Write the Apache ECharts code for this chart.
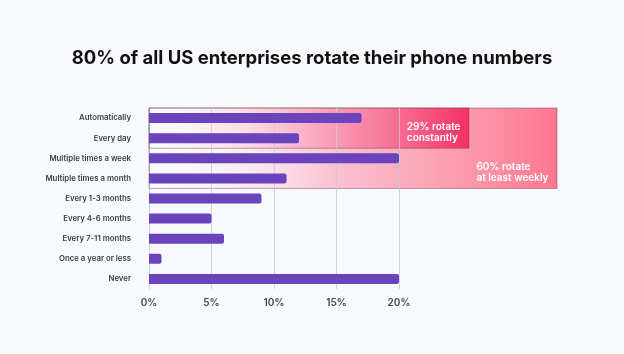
<!DOCTYPE html>
<html>
<head>
<meta charset="utf-8">
<script src="https://cdn.jsdelivr.net/npm/echarts@6/dist/echarts.min.js"></script>
<style>
  html, body { margin: 0; padding: 0; background: #f8f9fc; }
  #chart { width: 624px; height: 354px; }
</style>
</head>
<body>
<div id="chart"></div>
<script>
// data
const categories = [
  'Automatically', 'Every day', 'Multiple times a week', 'Multiple times a month',
  'Every 1-3 months', 'Every 4-6 months', 'Every 7-11 months', 'Once a year or less', 'Never'
]
const shares = [17, 12, 20, 11, 9, 5, 6, 1, 20]
const tickValues = [5, 10, 15, 20]
const axisMax = 32.64

// highlighted groups: x extent in %, first and last row index
const weeklyBox = { text: ['60% rotate', 'at least weekly'], x: [0, 32.64], rows: [0, 3] }
const constantBox = { text: ['29% rotate', 'constantly'], x: [0, 25.6], rows: [0, 1] }

const font = 'Inter, "Noto Sans", sans-serif'

function boxArea(box, colorTo, colorMid) {
  return [
    {
      xAxis: box.x[0],
      yAxis: box.rows[0] - 0.5,
      itemStyle: {
        color: {
          type: 'linear', x: 0, y: 0, x2: 1, y2: 0,
          colorStops: [
            { offset: 0, color: 'rgba(255,255,255,0)' },
            { offset: 0.45, color: colorMid },
            { offset: 1, color: colorTo }
          ]
        },
        borderColor: 'rgba(110,60,70,0.45)',
        borderWidth: 1
      },
      label: {
        show: true,
        position: 'insideBottomRight',
        distance: 0,
        offset: [-9, -5],
        formatter: box.text.map(t => '{a|' + t + '}').join('\n'),
        rich: {
          a: { color: '#fff', fontSize: 10, fontWeight: 600, fontFamily: font, align: 'left', lineHeight: 11 }
        }
      }
    },
    { xAxis: box.x[1], yAxis: box.rows[1] + 0.5 }
  ]
}

const chart = echarts.init(document.getElementById('chart'))

chart.setOption({
  backgroundColor: '#f8f9fc',
  title: {
    text: '80% of all US enterprises rotate their phone numbers',
    left: 'center',
    top: 44,
    textStyle: { fontFamily: font, fontSize: 18.5, fontWeight: 700, color: '#111' }
  },
  grid: { left: 149, right: 67, top: 108, bottom: 65 },
  xAxis: {
    type: 'value',
    min: 0,
    max: axisMax,
    interval: 5,
    splitLine: { show: false },
    axisLine: { show: false },
    axisTick: { show: false },
    axisLabel: {
      margin: 9,
      color: '#444452',
      fontFamily: font,
      fontSize: 10,
      fontWeight: 600,
      formatter: v => (v <= 20 ? v + '%' : '')
    }
  },
  yAxis: [
    {
      type: 'category',
      data: categories,
      inverse: true,
      axisLine: { show: true, lineStyle: { color: '#cfcfda' } },
      axisTick: { show: false },
      axisLabel: { margin: 18, color: '#3b3b4f', fontFamily: font, fontSize: 7.8, fontWeight: 600 }
    },
    { type: 'value', min: -0.5, max: categories.length - 0.5, inverse: true, show: false }
  ],
  series: [
    {
      type: 'scatter',
      yAxisIndex: 1,
      data: [],
      silent: true,
      markArea: {
        silent: true,
        data: [
          boxArea(weeklyBox, 'rgba(255,112,136,0.95)', 'rgba(250,180,200,0.8)'),
          boxArea(constantBox, 'rgba(242,30,90,0.85)', 'rgba(250,150,180,0.45)')
        ]
      },
      markLine: {
        silent: true,
        symbol: 'none',
        label: { show: false },
        lineStyle: { color: 'rgba(200,200,214,0.8)', width: 1, type: 'solid' },
        data: tickValues.map(v => ({ xAxis: v }))
      }
    },
    {
      type: 'bar',
      data: shares,
      barWidth: 10,
      z: 10,
      itemStyle: { color: '#6a43bd', borderRadius: [0, 2, 2, 0] }
    }
  ]
})
</script>
</body>
</html>
